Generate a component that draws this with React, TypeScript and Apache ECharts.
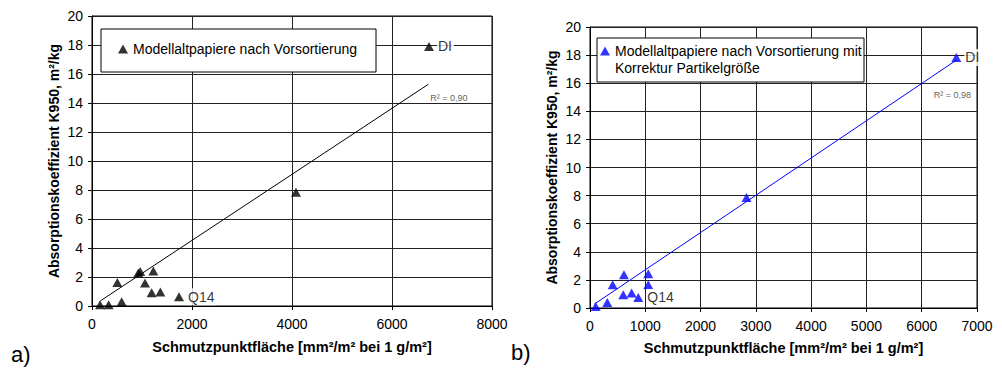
import React, { useEffect, useRef } from "react";
import * as echarts from "echarts";

// ---- Data: panel a) ----
const aLegendName = "Modellaltpapiere nach Vorsortierung";
const aX = [160, 333, 593, 507, 925, 965, 1227, 1060, 1193, 1367, 1740, 4080, 6740];
const aY = [0.08, 0.08, 0.3, 1.62, 2.28, 2.38, 2.42, 1.58, 0.92, 0.97, 0.64, 7.84, 17.9];
const aPointLabels = ["", "", "", "", "", "", "", "", "", "", "Q14", "", "DI"];
const aTrendX = [170, 6727];
const aTrendY = [0.36, 15.29];
const aR2 = "R² = 0,90";
const aXTicks = { min: 0, max: 8000, interval: 2000 };

// ---- Data: panel b) ----
const bLegendName = "Modellaltpapiere nach Vorsortierung mit";
const bLegendLine2 = "Korrektur Partikelgröße";
const bX = [103, 313, 410, 614, 602, 753, 873, 1054, 1054, 2831, 6626];
const bY = [0.1, 0.4, 1.65, 2.36, 0.94, 1.06, 0.75, 2.43, 1.65, 7.86, 17.83];
const bPointLabels = ["", "", "", "", "", "", "Q14", "", "", "", "DI"];
const bTrendX = [80, 6626];
const bTrendY = [0.28, 17.64];
const bR2 = "R² = 0,98";
const bXTicks = { min: 0, max: 7000, interval: 1000 };

const yTicks = { min: 0, max: 20, interval: 2 };
const yTitle = "Absorptionskoeffizient K950, m²/kg";
const xTitle = "Schmutzpunktfläche [mm²/m² bei 1 g/m²]";

const FONT = "'Liberation Sans', Arial, sans-serif";

function pts(xs: number[], ys: number[], labels?: string[]) {
  return xs.map((x, i) => {
    const lab = labels ? labels[i] : "";
    if (lab) {
      return {
        value: [x, ys[i]],
        label: {
          show: true,
          formatter: lab,
          position: "right",
          distance: 3,
          fontSize: 14,
          color: "#000",
          fontFamily: FONT,
          backgroundColor: "#fff",
          padding: [1, 2, 2, 1],
        },
      };
    }
    return { value: [x, ys[i]] };
  });
}

function xAxisOf(gridIndex: number, t: { min: number; max: number; interval: number }, gap: number) {
  return {
    type: "value",
    gridIndex,
    min: t.min,
    max: t.max,
    interval: t.interval,
    name: xTitle,
    nameLocation: "middle",
    nameGap: gap,
    nameTextStyle: { fontSize: 14.5, fontWeight: "bold", color: "#000", fontFamily: FONT },
    axisLine: { show: true, lineStyle: { color: "#000", width: 1 } },
    axisTick: { show: true, length: 4, inside: false, lineStyle: { color: "#000" } },
    axisLabel: { fontSize: 14, color: "#000", margin: 11, fontFamily: FONT, formatter: (v: number) => String(v) },
    splitLine: { show: true, lineStyle: { color: "#222", width: 1 } },
  };
}

function yAxisOf(gridIndex: number) {
  return {
    type: "value",
    gridIndex,
    min: yTicks.min,
    max: yTicks.max,
    interval: yTicks.interval,
    name: yTitle,
    nameLocation: "middle",
    nameGap: 31,
    nameTextStyle: { fontSize: 14, fontWeight: "bold", color: "#000", fontFamily: FONT },
    axisLine: { show: true, lineStyle: { color: "#000", width: 1 } },
    axisTick: { show: true, length: 4, inside: false, lineStyle: { color: "#000" } },
    axisLabel: { fontSize: 14, color: "#000", margin: 9, fontFamily: FONT, formatter: (v: number) => String(v) },
    splitLine: { show: true, lineStyle: { color: "#222", width: 1 } },
  };
}

export default function App() {
  const ref = useRef<HTMLDivElement>(null);
  useEffect(() => {
    if (!ref.current) return;
    const chart = echarts.init(ref.current, undefined, { renderer: "svg" });
    const option: any = {
      animation: false,
      backgroundColor: "#fff",
      textStyle: { fontFamily: FONT },
      grid: [
        { left: 92, top: 16, width: 400, height: 290, show: true, borderColor: "#000", borderWidth: 1, backgroundColor: "transparent" },
        { left: 590, top: 27, width: 387, height: 281, show: true, borderColor: "#000", borderWidth: 1, backgroundColor: "transparent" },
      ],
      xAxis: [xAxisOf(0, aXTicks, 33), xAxisOf(1, bXTicks, 32)],
      yAxis: [yAxisOf(0), yAxisOf(1)],
      legend: [
        {
          data: [aLegendName],
          left: 118,
          top: 42,
          padding: 0,
          itemWidth: 10,
          itemHeight: 9,
          itemGap: 0,
          icon: "triangle",
          textStyle: { fontSize: 14, color: "#000", fontFamily: FONT },
          z: 10,
        },
        {
          data: [bLegendName],
          left: 600,
          top: 44,
          padding: 0,
          itemWidth: 10,
          itemHeight: 9,
          itemGap: 0,
          icon: "triangle",
          textStyle: { fontSize: 14, color: "#000", fontFamily: FONT },
          z: 10,
        },
      ],
      graphic: [
        { type: "rect", z: 5, shape: { x: 101, y: 29, width: 275, height: 43 }, style: { fill: "#fff", stroke: "#000", lineWidth: 1 } },
        { type: "rect", z: 5, shape: { x: 597, y: 38, width: 267, height: 44 }, style: { fill: "#fff", stroke: "#000", lineWidth: 1 } },
        { type: "text", z: 10, x: 615, y: 68, style: { text: bLegendLine2, fontSize: 14, fill: "#000", fontFamily: FONT, textVerticalAlign: "middle" } },
        { type: "text", z: 10, x: 11, y: 354, style: { text: "a)", fontSize: 22, fill: "#000", fontFamily: FONT, textVerticalAlign: "middle" } },
        { type: "text", z: 10, x: 511, y: 352, style: { text: "b)", fontSize: 22, fill: "#000", fontFamily: FONT, textVerticalAlign: "middle" } },
      ],
      series: [
        {
          name: aLegendName + "_trend",
          type: "line",
          xAxisIndex: 0,
          yAxisIndex: 0,
          data: aTrendX.map((x, i) => [x, aTrendY[i]]),
          showSymbol: false,
          symbol: "none",
          lineStyle: { color: "#000", width: 1 },
          z: 3,
        },
        {
          name: "aR2",
          type: "scatter",
          xAxisIndex: 0,
          yAxisIndex: 0,
          symbolSize: 0,
          data: [[aTrendX[1], aTrendY[1]]],
          label: { show: true, formatter: aR2, position: "right", distance: 2, offset: [0, 14], fontSize: 9, color: "#333", fontFamily: FONT },
          z: 3,
        },
        {
          name: aLegendName,
          type: "scatter",
          xAxisIndex: 0,
          yAxisIndex: 0,
          symbol: "triangle",
          symbolSize: [10, 9],
          itemStyle: { color: "#000" },
          data: pts(aX, aY, aPointLabels),
          z: 4,
        },
        {
          name: bLegendName + "_trend",
          type: "line",
          xAxisIndex: 1,
          yAxisIndex: 1,
          data: bTrendX.map((x, i) => [x, bTrendY[i]]),
          showSymbol: false,
          symbol: "none",
          lineStyle: { color: "#0000ff", width: 1 },
          z: 3,
        },
        {
          name: "bR2",
          type: "scatter",
          xAxisIndex: 1,
          yAxisIndex: 1,
          symbolSize: 0,
          data: [[bTrendX[1], bTrendY[1]]],
          label: { show: true, formatter: bR2, position: "inside", offset: [-4, 35], fontSize: 9, color: "#333", fontFamily: FONT },
          z: 3,
        },
        {
          name: bLegendName,
          type: "scatter",
          xAxisIndex: 1,
          yAxisIndex: 1,
          symbol: "triangle",
          symbolSize: [10, 9],
          itemStyle: { color: "#0000ff" },
          data: pts(bX, bY, bPointLabels),
          z: 4,
        },
      ],
    };
    chart.setOption(option);
    return () => chart.dispose();
  }, []);
  return (
    <div
      ref={ref}
      style={{ position: "absolute", left: 0, top: 0, width: 1002, height: 372, background: "#fff" }}
    />
  );
}
